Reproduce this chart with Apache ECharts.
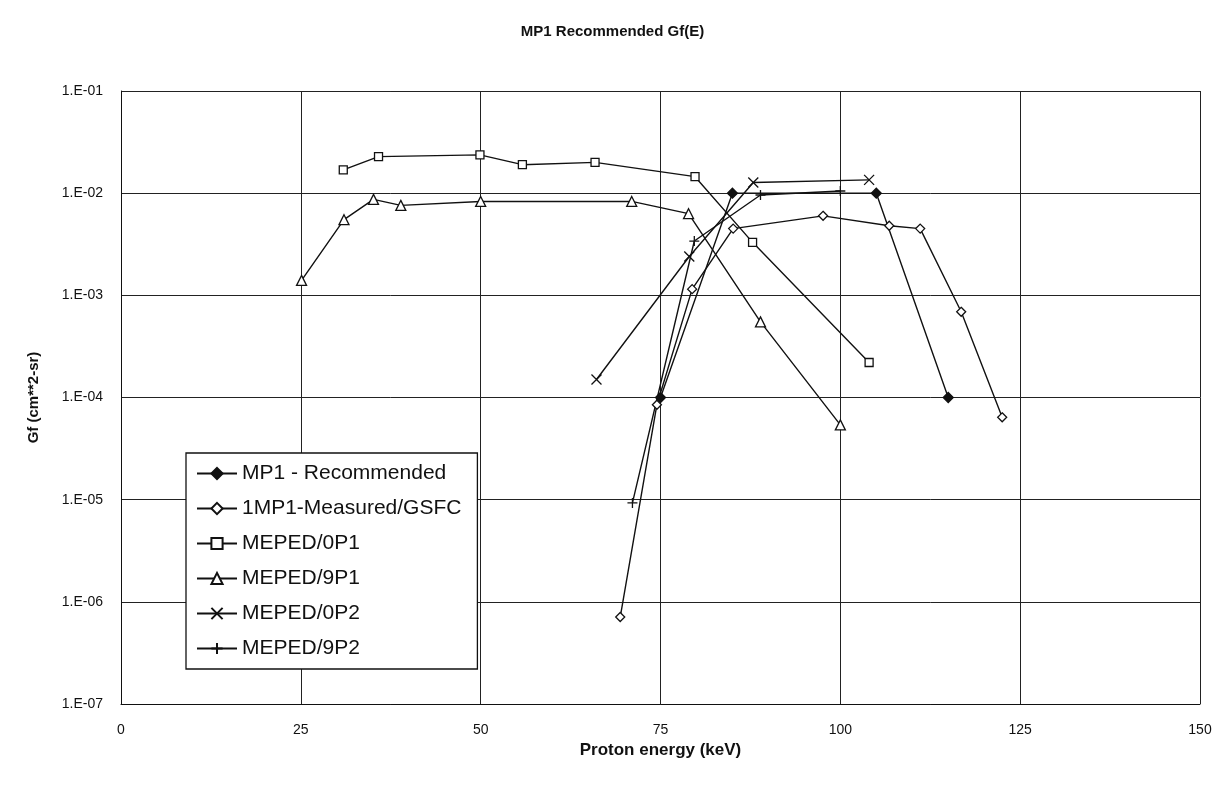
<!DOCTYPE html>
<html>
<head>
<meta charset="utf-8">
<script src="https://cdn.jsdelivr.net/npm/echarts@6/dist/echarts.min.js"></script>
<style>
html, body { margin: 0; padding: 0; background: #fff; }
#chart { width: 1225px; height: 789px; }
</style>
</head>
<body>
<div id="chart"></div>
<script>
// values (energy in keV, Gf in cm**2-sr)
var mp1RecE = [75, 85, 105, 115];
var mp1RecGf = [1.0e-4, 1.0e-2, 1.0e-2, 1.0e-4];

var measE = [69.4, 74.5, 79.4, 85.1, 97.6, 106.8, 111.1, 116.8, 122.5];
var measGf = [7.1e-7, 8.5e-5, 1.15e-3, 4.5e-3, 6.0e-3, 4.8e-3, 4.5e-3, 6.9e-4, 6.4e-5];

var p0p1E = [30.9, 35.8, 49.9, 55.8, 65.9, 79.8, 87.8, 104.0];
var p0p1Gf = [1.69e-2, 2.28e-2, 2.37e-2, 1.9e-2, 2.0e-2, 1.45e-2, 3.3e-3, 2.2e-4];

var p9p1E = [25.1, 31.0, 35.1, 38.9, 50.0, 71.0, 78.9, 88.9, 100.0];
var p9p1Gf = [1.4e-3, 5.5e-3, 8.7e-3, 7.6e-3, 8.3e-3, 8.3e-3, 6.3e-3, 5.5e-4, 5.4e-5];

var p0p2E = [66.1, 79.0, 87.9, 104.0];
var p0p2Gf = [1.5e-4, 2.4e-3, 1.27e-2, 1.35e-2];

var p9p2E = [71.1, 79.7, 88.9, 100.0];
var p9p2Gf = [9.3e-6, 3.4e-3, 9.6e-3, 1.05e-2];

var seriesNames = ['MP1 - Recommended', '1MP1-Measured/GSFC', 'MEPED/0P1', 'MEPED/9P1', 'MEPED/0P2', 'MEPED/9P2'];
var xTicks = [0, 25, 50, 75, 100, 125, 150];

var FONT = '"Liberation Sans", Arial, sans-serif';

function pairs(xs, ys){
    return xs.map(function (x, i) { return [x, ys[i]]; });
}

function make_series(name, xs, ys, symbol, size, fill){
    return {
        type: 'line',
        name: name,
        data: pairs(xs, ys),
        symbol: symbol,
        symbolSize: size,
        showAllSymbol: true,
        animation: false,
        lineStyle: { color: '#111', width: 1.4 },
        itemStyle: { color: fill, borderColor: '#111', borderWidth: 1.3 }
    };
}

function sci_label(v){
    var p = Math.round(Math.log10(v));
    var s = Math.abs(p) < 10 ? '0' + Math.abs(p) : '' + Math.abs(p);
    return '1.E' + (p < 0 ? '-' : '+') + s;
}

var chart = echarts.init(document.getElementById('chart'));

var options = {
    backgroundColor: '#fff',
    title: {
        text: 'MP1 Recommended Gf(E)',
        left: 'center',
        top: 19,
        textStyle: { fontFamily: FONT, fontSize: 15, fontWeight: 'bold', color: '#111' }
    },
    grid: { left: 121, right: 25, top: 91, bottom: 85 },
    xAxis: {
        type: 'value',
        min: 0,
        max: 150,
        interval: 25,
        name: 'Proton energy (keV)',
        nameLocation: 'middle',
        nameGap: 38,
        nameTextStyle: { fontFamily: FONT, fontSize: 17, fontWeight: 'bold', color: '#111' },
        axisLine: { show: true, lineStyle: { color: '#111', width: 1 } },
        axisTick: { show: false },
        axisLabel: {
            margin: 19, fontFamily: FONT, fontSize: 14, color: '#111',
            formatter: function (v) { return xTicks.indexOf(v) >= 0 ? '' + v : ''; }
        },
        splitLine: { show: true, lineStyle: { color: '#222', width: 1 } }
    },
    yAxis: {
        type: 'log',
        logBase: 10,
        min: 1e-7,
        max: 1e-1,
        name: 'Gf (cm**2-sr)',
        nameLocation: 'middle',
        nameGap: 80,
        nameTextStyle: { fontFamily: FONT, fontSize: 15, fontWeight: 'bold', color: '#111' },
        axisLine: { show: true, lineStyle: { color: '#111', width: 1 } },
        axisTick: { show: false },
        axisLabel: {
            margin: 18, fontFamily: FONT, fontSize: 14, color: '#111',
            formatter: sci_label
        },
        splitLine: { show: true, lineStyle: { color: '#222', width: 1 } }
    },
    legend: {
        orient: 'vertical',
        left: 186,
        top: 453,
        backgroundColor: '#fff',
        borderColor: '#111',
        borderWidth: 1.3,
        borderRadius: 0,
        padding: [9, 16, 9, 10],
        itemGap: 12,
        itemWidth: 40,
        itemHeight: 14,
        data: seriesNames,
        textStyle: { fontFamily: FONT, fontSize: 21, lineHeight: 23, color: '#111' }
    },
    series: [
        make_series(seriesNames[0], mp1RecE, mp1RecGf, 'diamond', 10, '#111'),
        make_series(seriesNames[1], measE, measGf, 'diamond', 9, '#fff'),
        make_series(seriesNames[2], p0p1E, p0p1Gf, 'rect', 8, '#fff'),
        make_series(seriesNames[3], p9p1E, p9p1Gf, 'triangle', 10, '#fff'),
        make_series(seriesNames[4], p0p2E, p0p2Gf, 'path://M0,0L10,10M10,0L0,10', 10, 'none'),
        make_series(seriesNames[5], p9p2E, p9p2Gf, 'path://M0,5L10,5M5,0L5,10', 10, 'none')
    ]
};

chart.setOption(options);
</script>
</body>
</html>
